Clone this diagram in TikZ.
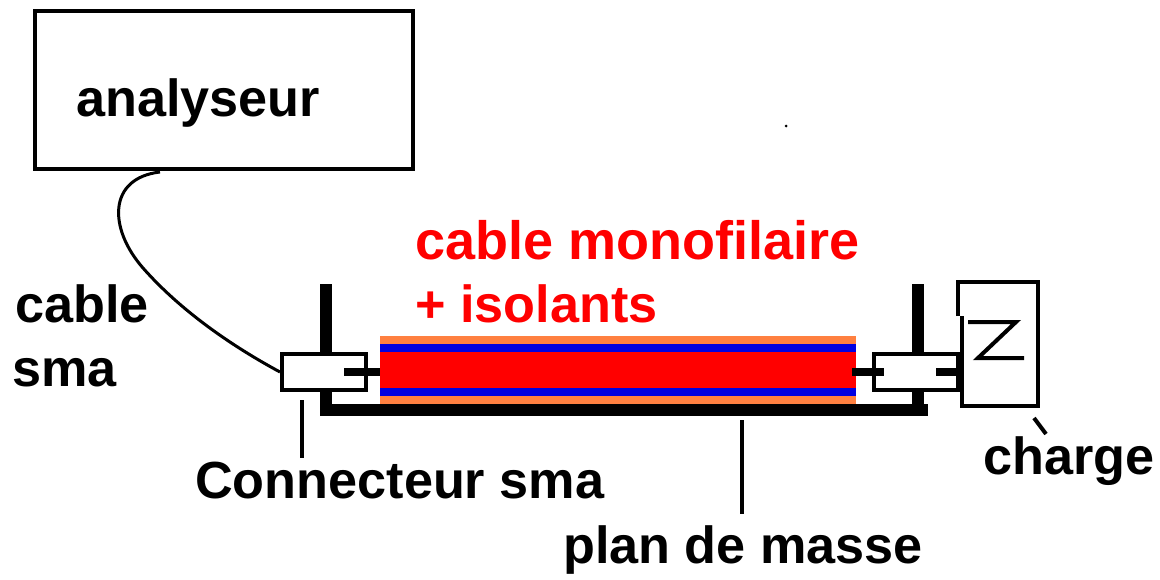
\documentclass[tikz,border=0pt]{standalone}
\usepackage{fontspec}
\setmainfont{Liberation Sans}
\usepackage{xcolor}
\usetikzlibrary{positioning}
\definecolor{Orange}{HTML}{FF8040}
\definecolor{Blue}{HTML}{0000E0}
\definecolor{Red}{HTML}{FF0000}

\begin{document}
\begin{tikzpicture}[
  x=1pt, y=-1pt,
  label/.style={anchor=base west, inner sep=0pt, font=\fontsize{52.2}{60}\selectfont\bfseries},
  redlabel/.style={label, text=Red},
  box/.style={rectangle, draw=black, line width=4pt, fill=white, minimum width=84pt, minimum height=36pt, inner sep=0pt},
  layer/.style={rectangle, minimum width=476pt, inner sep=0pt},
  post/.style={line width=12pt},
  stub/.style={line width=8pt},
  wire/.style={line width=3pt}
]
\useasboundingbox (0,0) rectangle (1160,579);

% analyser and text
\node[rectangle, draw=black, line width=4pt, minimum width=378pt, minimum height=158pt, inner sep=0pt] (analyseur) at (224,90) {};
\node[label] (analyseurtext) at (76,116) {analyseur};
\node[redlabel, font=\fontsize{54}{60}\selectfont\bfseries] (cabletext) at (415,259) {cable monofilaire};
\node[redlabel] (isolants) at (415,322) {+ isolants};
\node[label] (cablesma) at (15,322) {cable};
\node[label] (cablesmb) at (12,386) {sma};
\node[label] (connecteur) at (195,498) {Connecteur sma};
\node[label] (plan) at (563,563) {plan de masse};
\node[label] (charge) at (983,474) {charge};
\fill (786,126) circle (1.5pt);

% line with its insulators
\node[layer, fill=Orange, minimum height=68pt] (isolant) at (618,370) {};
\node[layer, fill=Blue, minimum height=52pt] (gaine) at (618,370) {};
\node[layer, fill=Red, minimum height=36pt] (ame) at (618,370) {};

% ground plane and posts
\draw[post] (320,410) -- (928,410);
\coordinate (posta) at (326,284);
\coordinate (postb) at (918,284);
\draw[post] (posta) -- (326,410);
\draw[post] (postb) -- (918,410);

% connectors
\node[box] (sma) at (324,372) {};
\node[box] (smb) at (916,372) {};
\draw[stub] (344,372) -- (380,372);
\draw[stub] (852,372) -- (884,372);
\draw[stub] (936,372) -- (960,372);

% load
\coordinate (za) at (958,316);
\coordinate (zb) at (962,316);
\draw[line width=4pt] (za) -- (958,282) -- (1038,282) -- (1038,406) -- (962,406) -- (zb);
\draw[line width=4pt] (968,322) -- (1016,322) -- (978,358) -- (1024,358);

% cable
\coordinate (depart) at (160,172);
\draw[wire] (depart)
  .. controls (108,178) and (108,228) .. (143,268)
  .. controls (180,310) and (230,345) .. (sma.west);

% pointers
\coordinate (pointa) at (302,458);
\coordinate (pointb) at (742,514);
\coordinate (pointc) at (1046,434);
\draw[line width=4pt] (302,400) -- (pointa);
\draw[line width=4pt] (742,420) -- (pointb);
\draw[line width=4pt] (1034,418) -- (pointc);
\end{tikzpicture}
\end{document}
